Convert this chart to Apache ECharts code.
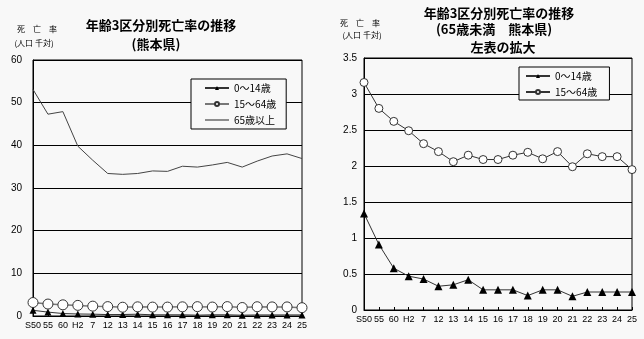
<!DOCTYPE html>
<html>
<head>
<meta charset="utf-8">
<script src="https://cdn.jsdelivr.net/npm/echarts@6/dist/echarts.min.js"></script>
<style>
html,body{margin:0;padding:0;background:#f8f8f8;}
#chart{width:644px;height:339px;}
</style>
</head>
<body>
<div id="chart"></div>
<script>
var categories = ['S50','55','60','H2','7','12','13','14','15','16','17','18','19','20','21','22','23','24','25'];
var child = [1.34,0.91,0.58,0.47,0.43,0.33,0.35,0.42,0.28,0.28,0.28,0.20,0.28,0.28,0.19,0.25,0.25,0.25,0.25];
var working = [3.16,2.80,2.62,2.49,2.31,2.20,2.06,2.15,2.09,2.09,2.15,2.19,2.10,2.20,1.99,2.17,2.13,2.13,1.95];
var elderly = [53.1,47.3,47.9,39.8,36.5,33.4,33.2,33.4,34.0,33.9,35.1,34.9,35.4,36.0,34.9,36.3,37.5,38.0,36.9];
var seriesNames = ['0～14歳','15～64歳','65歳以上'];
var leftTitle = ['年齢3区分別死亡率の推移','(熊本県)'];
var rightTitle = ['年齢3区分別死亡率の推移','(65歳未満　熊本県)','左表の拡大'];
var axisName = ['死　亡　率','(人口 千対)'];

var FONT = '"Noto Sans CJK JP", sans-serif';
var NUMFONT = '"Liberation Sans", Arial, sans-serif';
var chart = echarts.init(document.getElementById('chart'));

function t(text, x, y, size, bold) {
  return {
    text: text, left: x, top: y, padding: 0,
    textAlign: 'center', textVerticalAlign: 'middle',
    textStyle: {fontFamily: FONT, fontSize: size, fontWeight: bold ? 'bold' : 'normal', color: '#000'}
  };
}

function xAx(gi) {
  return {
    type: 'category', gridIndex: gi, data: categories, boundaryGap: false,
    axisLine: {lineStyle: {color: '#000', width: 1}},
    axisTick: {show: true, inside: true, length: 3, lineStyle: {color: '#000'}, alignWithLabel: true},
    axisLabel: {fontFamily: NUMFONT, fontSize: 9, color: '#000', margin: 5, interval: 0},
    splitLine: {show: false}
  };
}
function yAx(gi, max, interval, margin) {
  return {
    type: 'value', gridIndex: gi, min: 0, max: max, interval: interval,
    axisLine: {show: true, lineStyle: {color: '#000'}},
    axisTick: {show: false},
    axisLabel: {fontFamily: NUMFONT, fontSize: 10, color: '#000', margin: margin},
    splitLine: {show: true, lineStyle: {color: '#000', width: 1}}
  };
}

var lineIcon = 'path://M0,4.5H24V5.5H0Z';

var option = {
  backgroundColor: '#f8f8f8',
  animation: false,
  title: [
    t(leftTitle[0], 161, 25, 13, true),
    t(leftTitle[1], 156, 44, 13, true),
    t(rightTitle[0], 499, 13, 13, true),
    t(rightTitle[1], 494, 29, 13, true),
    t(rightTitle[2], 503, 47, 13, true),
    t(axisName[0], 37, 29, 8, false),
    t(axisName[1], 34, 43, 8, false),
    t(axisName[0], 360, 23, 8, false),
    t(axisName[1], 362, 35, 8, false)
  ],
  grid: [
    {left: 33, top: 60, width: 269, height: 256, show: true, borderColor: '#000', borderWidth: 1, backgroundColor: 'transparent'},
    {left: 364, top: 58, width: 268, height: 252, show: true, borderColor: '#000', borderWidth: 1, backgroundColor: 'transparent'}
  ],
  xAxis: [xAx(0), xAx(1)],
  yAxis: [yAx(0, 60, 10, 11), yAx(1, 3.5, 0.5, 7)],
  legend: [
    {
      left: 191, top: 79, orient: 'vertical', itemWidth: 24, itemHeight: 5, itemGap: 6,
      padding: [4, 10, 4, 13], borderColor: '#000', borderWidth: 1, backgroundColor: '#f8f8f8',
      data: [{name: seriesNames[0]}, {name: seriesNames[1]}, {name: seriesNames[2], icon: lineIcon}],
      textStyle: {fontFamily: FONT, fontSize: 10, color: '#000'},
      selectedMode: false
    },
    {
      left: 519, top: 67, orient: 'vertical', itemWidth: 24, itemHeight: 5, itemGap: 6,
      padding: [4, 10, 3, 6], borderColor: '#000', borderWidth: 1, backgroundColor: '#f8f8f8',
      data: [{name: seriesNames[0] + ' '}, {name: seriesNames[1] + ' '}],
      textStyle: {fontFamily: FONT, fontSize: 10, color: '#000'},
      selectedMode: false
    }
  ],
  series: [
    {name: seriesNames[0], type: 'line', xAxisIndex: 0, yAxisIndex: 0, data: child,
      symbol: 'triangle', symbolSize: 7, showAllSymbol: true,
      lineStyle: {color: '#333', width: 1}, itemStyle: {color: '#000', borderWidth: 0}},
    {name: seriesNames[1], type: 'line', xAxisIndex: 0, yAxisIndex: 0, data: working,
      symbol: 'circle', symbolSize: 10, showAllSymbol: true,
      lineStyle: {color: '#777', width: 1.5}, itemStyle: {color: '#fff', borderColor: '#333', borderWidth: 1}},
    {name: seriesNames[2], type: 'line', xAxisIndex: 0, yAxisIndex: 0, data: elderly,
      symbol: 'none', lineStyle: {color: '#444', width: 1}, itemStyle: {color: '#222'}},
    {name: seriesNames[0] + ' ', type: 'line', xAxisIndex: 1, yAxisIndex: 1, data: child,
      symbol: 'triangle', symbolSize: 8, showAllSymbol: true,
      lineStyle: {color: '#333', width: 1}, itemStyle: {color: '#000', borderWidth: 0}},
    {name: seriesNames[1] + ' ', type: 'line', xAxisIndex: 1, yAxisIndex: 1, data: working,
      symbol: 'circle', symbolSize: 8, showAllSymbol: true,
      lineStyle: {color: '#333', width: 1}, itemStyle: {color: '#fff', borderColor: '#333', borderWidth: 1}}
  ]
};
chart.setOption(option);
</script>
</body>
</html>
